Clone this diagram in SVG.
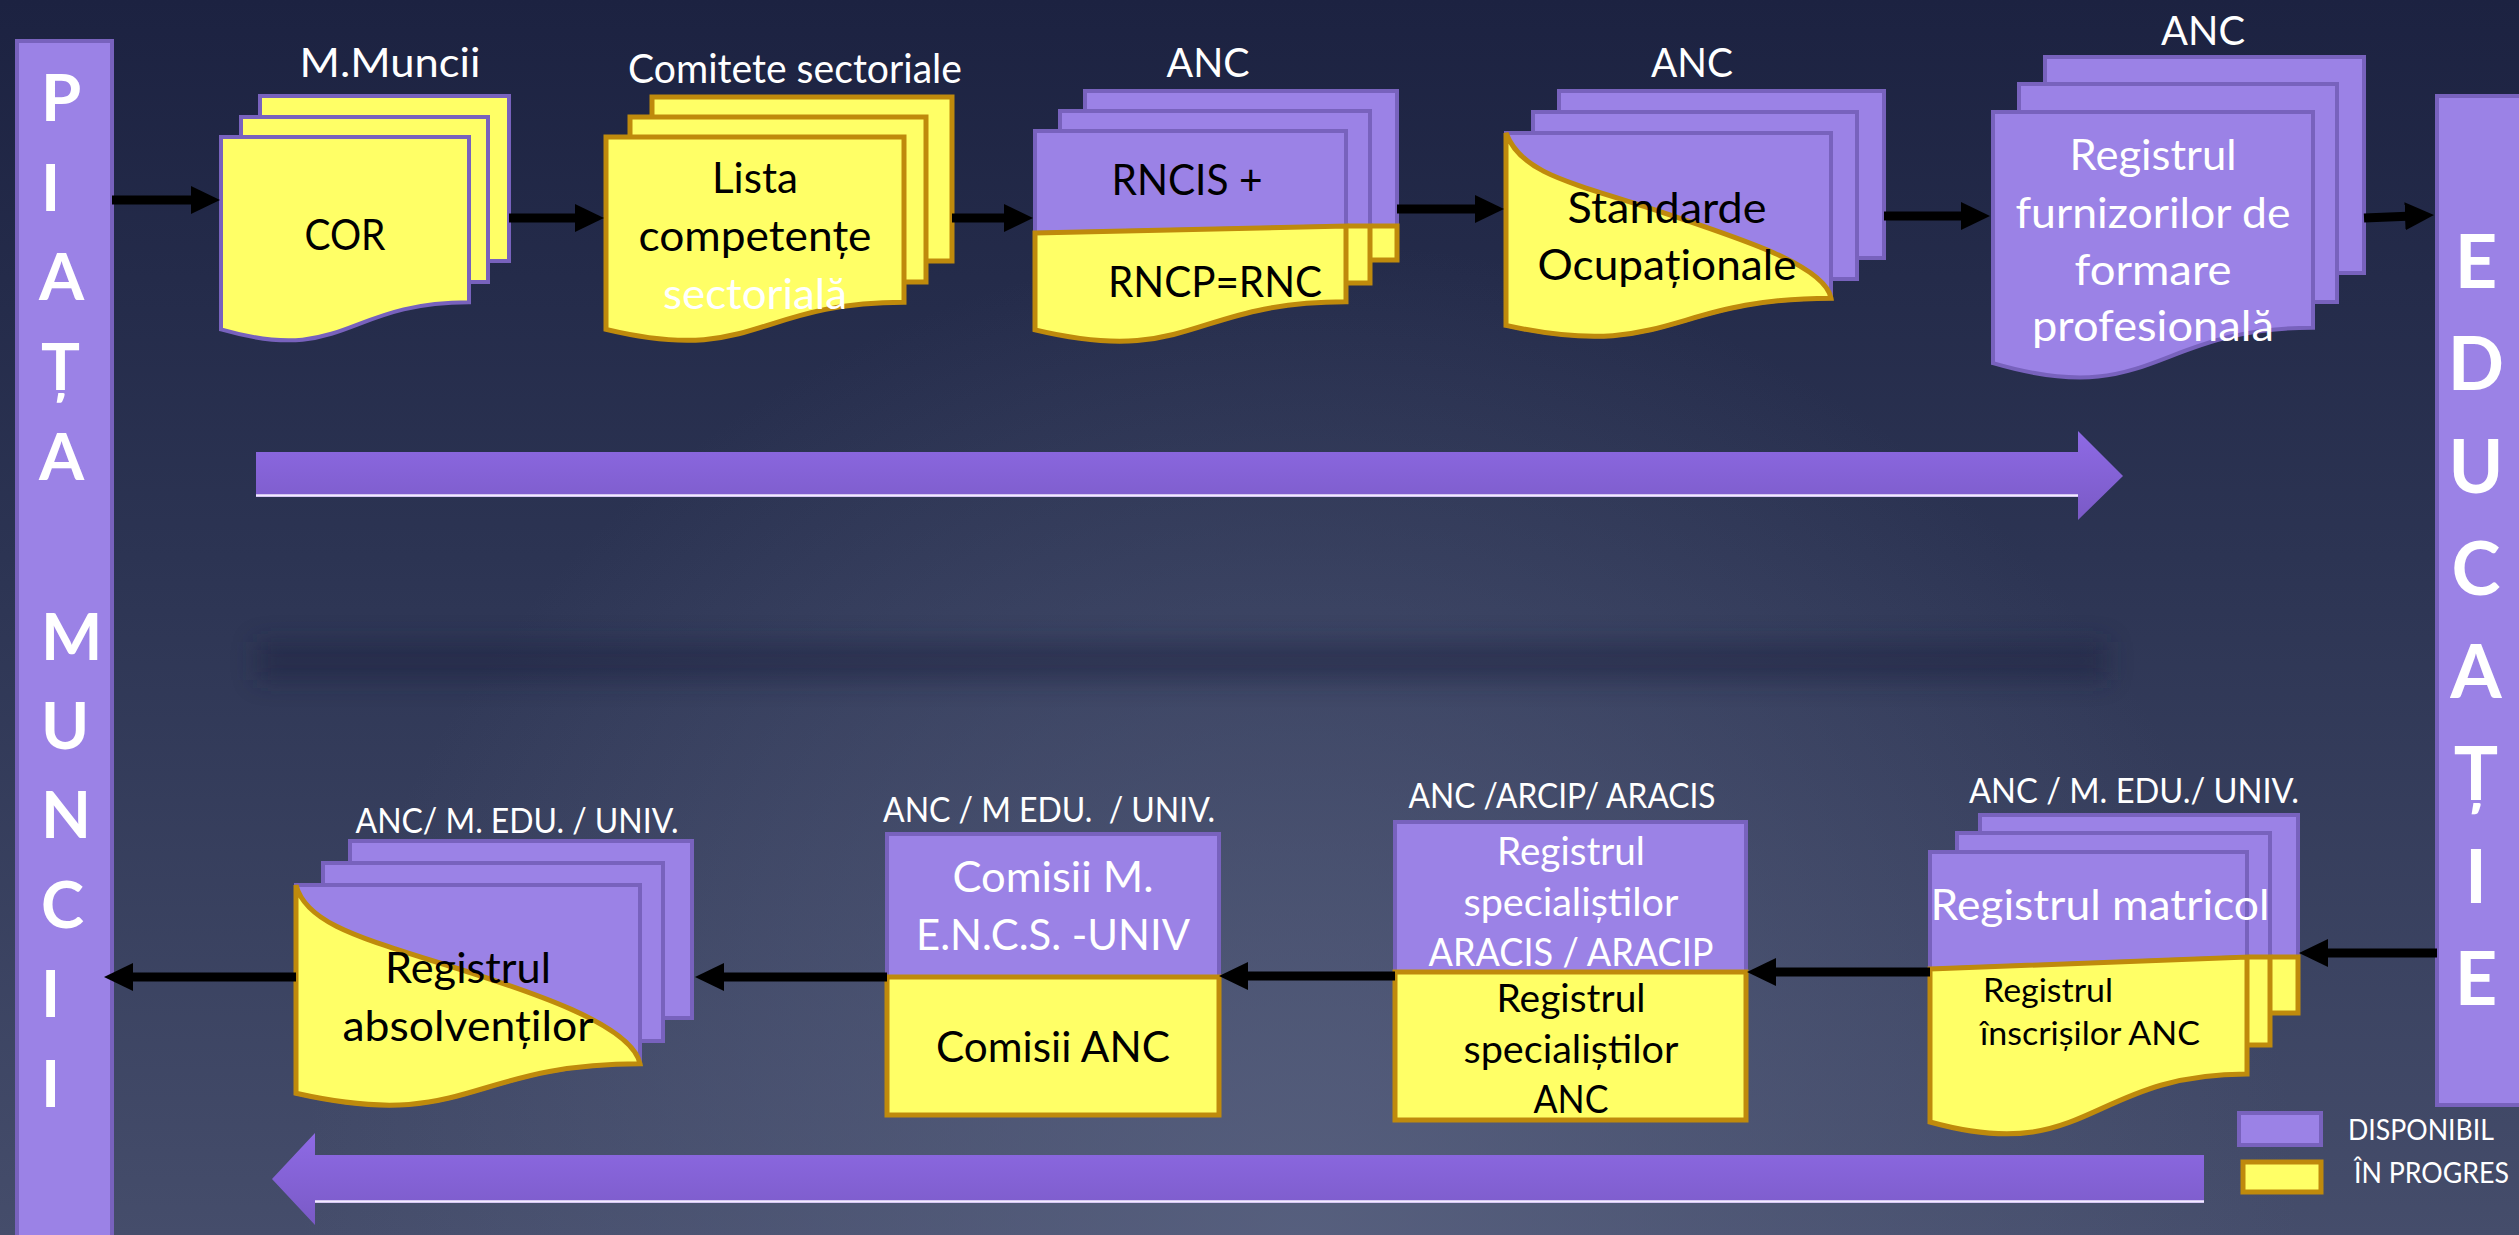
<svg xmlns="http://www.w3.org/2000/svg" width="2519" height="1235" viewBox="0 0 2519 1235">
<defs>
  <linearGradient id="bg" x1="0" y1="0" x2="0" y2="1">
    <stop offset="0" stop-color="#1c2241"/>
    <stop offset="0.45" stop-color="#2c3453"/>
    <stop offset="1" stop-color="#454d6b"/>
  </linearGradient>
  <radialGradient id="bgGlow" cx="1300" cy="1240" r="1000" gradientUnits="userSpaceOnUse">
    <stop offset="0" stop-color="#5c6584" stop-opacity="0.75"/>
    <stop offset="1" stop-color="#5c6584" stop-opacity="0"/>
  </radialGradient>
  <linearGradient id="bigArrow" x1="0" y1="0" x2="0" y2="1">
    <stop offset="0" stop-color="#8e6ae5"/>
    <stop offset="1" stop-color="#7a5ac6"/>
  </linearGradient>
  <filter id="blur" x="-10%" y="-200%" width="120%" height="500%">
    <feGaussianBlur stdDeviation="6"/>
  </filter>
  <filter id="blurBig" x="-10%" y="-200%" width="120%" height="500%">
    <feGaussianBlur stdDeviation="12"/>
  </filter>
  <marker id="ah" markerUnits="userSpaceOnUse" markerWidth="30" markerHeight="30" refX="2" refY="14" orient="auto">
    <path d="M0,0 L29,14 L0,28 Z" fill="#000"/>
  </marker>
</defs>
<style>
  .pur{fill:#9b82e6;stroke:#7862bd;stroke-width:4}
  .yel{fill:#ffff66;stroke:#bf8a0c;stroke-width:5}
  .yelp{fill:#ffff66;stroke:#7862bd;stroke-width:4}
  .bar{fill:#9b82e6;stroke:#7862bd;stroke-width:4}
  text{font-family:Lato,"Open Sans","Liberation Sans",sans-serif}
  .t{font-size:43px;text-anchor:middle}
  .s{font-size:39px;text-anchor:middle}
  .w{fill:#ffffff}
  .b{fill:#000000}
  .lbl{font-size:41px;fill:#ffffff;text-anchor:middle}
  .sl{font-size:34px;fill:#ffffff;text-anchor:middle}
  .big{font-weight:bold;fill:#ffffff}
  .conn{stroke:#000;stroke-width:9;fill:none;marker-end:url(#ah)}
  .glow{stroke:#7a84a6;stroke-width:16;fill:none;opacity:0.45;filter:url(#blur)}
  .leg{font-size:28px;fill:#ffffff}
</style>

<!-- background -->
<rect x="0" y="0" width="2519" height="1235" fill="url(#bg)"/>
<rect x="0" y="0" width="2519" height="1235" fill="url(#bgGlow)"/>
<rect x="257" y="642" width="1850" height="38" fill="#1c2240" opacity="0.5" filter="url(#blurBig)"/>

<!-- glow reflections under connectors -->
<g id="glows">
  <path class="glow" d="M112,220 H2437"/>
  <path class="glow" d="M110,995 H2437"/>
</g>

<!-- side bars -->
<g id="piata">
  <rect class="bar" x="17" y="41" width="95" height="1220"/>
  <text class="big" font-size="65" x="41" y="121">P</text>
  <text class="big" font-size="65" x="41" y="211">I</text>
  <text class="big" font-size="65" x="39" y="300">A</text>
  <text class="big" font-size="65" x="41" y="390">Ț</text>
  <text class="big" font-size="65" x="39" y="480">A</text>
  <text class="big" font-size="65" x="41" y="660">M</text>
  <text class="big" font-size="65" x="41" y="749">U</text>
  <text class="big" font-size="65" x="41" y="838">N</text>
  <text class="big" font-size="65" x="41" y="928">C</text>
  <text class="big" font-size="65" x="41" y="1017">I</text>
  <text class="big" font-size="65" x="41" y="1107">I</text>
</g>
<g id="educatie">
  <rect class="bar" x="2437" y="96" width="100" height="1009"/>
  <g text-anchor="middle">
    <text class="big" font-size="74" x="2476" y="288">E</text>
    <text class="big" font-size="74" x="2476" y="390">D</text>
    <text class="big" font-size="74" x="2476" y="493">U</text>
    <text class="big" font-size="74" x="2476" y="595">C</text>
    <text class="big" font-size="74" x="2476" y="698">A</text>
    <text class="big" font-size="74" x="2476" y="800">Ț</text>
    <text class="big" font-size="74" x="2476" y="903">I</text>
    <text class="big" font-size="74" x="2476" y="1005">E</text>
  </g>
</g>

<!-- big flow arrows -->
<g id="flow-top">
  <path d="M256,452 H2078 V431 L2123,476 L2078,520 V497 H256 Z" fill="url(#bigArrow)"/>
  <path d="M256,495.5 H2078" stroke="#f2eaff" stroke-width="2.5"/>
</g>
<g id="flow-bottom">
  <path d="M2204,1155 H315 V1133 L272,1179 L315,1225 V1203 H2204 Z" fill="url(#bigArrow)"/>
  <path d="M315,1201.5 H2204" stroke="#f2eaff" stroke-width="2.5"/>
</g>

<!-- top row nodes -->
<g id="cor">
  <text class="lbl" x="390" y="77" textLength="181" lengthAdjust="spacingAndGlyphs">M.Muncii</text>
  <rect class="yelp" x="260" y="96" width="249" height="165"/>
  <rect class="yelp" x="241" y="117" width="247" height="165"/>
  <path class="yelp" d="M221,137 H469 V302.2 C345,302.2 345,365.1 221,329.4 Z"/>
  <text class="t b" x="345" y="250" textLength="81" lengthAdjust="spacingAndGlyphs">COR</text>
</g>

<g id="lista">
  <text class="lbl" x="795" y="83" font-size="39" textLength="334" lengthAdjust="spacingAndGlyphs">Comitete sectoriale</text>
  <rect class="yel" x="652" y="97" width="300" height="164"/>
  <rect class="yel" x="630" y="117" width="296" height="165"/>
  <path class="yel" d="M606,137 H904 V302.2 C755,302.2 755,365.1 606,329.4 Z"/>
  <text class="t b" x="755" y="193" textLength="86" lengthAdjust="spacingAndGlyphs">Lista</text>
  <text class="t b" x="755" y="251" textLength="233" lengthAdjust="spacingAndGlyphs">competențe</text>
  <text class="t w" x="755" y="309" textLength="184" lengthAdjust="spacingAndGlyphs">sectorială</text>
</g>

<g id="rncis">
  <text class="lbl" x="1208" y="77" textLength="83" lengthAdjust="spacingAndGlyphs">ANC</text>
  <rect class="pur" x="1085" y="91" width="312" height="169"/>
  <rect class="yel" x="1085" y="226" width="312" height="34"/>
  <rect class="pur" x="1060" y="111" width="310" height="172"/>
  <rect class="yel" x="1060" y="226" width="310" height="57"/>
  <path class="pur" d="M1035,131 H1346 V226 L1035,233 Z"/>
  <path class="yel" d="M1035,233 L1346,226 V301.8 C1190.5,301.8 1190.5,366.9 1035,329.9 Z"/>
  <text class="t b" x="1187" y="195" textLength="151" lengthAdjust="spacingAndGlyphs">RNCIS +</text>
  <text class="t b" x="1215" y="297" textLength="214" lengthAdjust="spacingAndGlyphs">RNCP=RNC</text>
</g>

<g id="standarde">
  <text class="lbl" x="1692" y="77" textLength="82" lengthAdjust="spacingAndGlyphs">ANC</text>
  <rect class="pur" x="1559" y="91" width="325" height="167"/>
  <rect class="pur" x="1533" y="112" width="324" height="167"/>
  <path class="pur" d="M1506,133 H1831 V298.2 C1668.5,298.2 1668.5,361.1 1506,325.4 Z"/>
  <path class="yel" d="M1506,133 C1520,170 1560,180 1640,205 C1740,238 1825,265 1831,298.2 C1668.5,298.2 1668.5,361.1 1506,325.4 Z"/>
  <text class="t b" x="1667" y="223" textLength="199" lengthAdjust="spacingAndGlyphs">Standarde</text>
  <text class="t b" x="1667" y="280" textLength="259" lengthAdjust="spacingAndGlyphs">Ocupaționale</text>
</g>

<g id="furnizori">
  <text class="lbl" x="2203" y="45" textLength="84" lengthAdjust="spacingAndGlyphs">ANC</text>
  <rect class="pur" x="2045" y="57" width="319" height="216"/>
  <rect class="pur" x="2019" y="84" width="318" height="218"/>
  <path class="pur" d="M1993,112 H2313 V327.7 C2153,327.7 2153,409.9 1993,363.2 Z"/>
  <text class="t w" x="2153" y="170" textLength="167" lengthAdjust="spacingAndGlyphs">Registrul</text>
  <text class="t w" x="2153" y="228" textLength="275" lengthAdjust="spacingAndGlyphs">furnizorilor de</text>
  <text class="t w" x="2153" y="285" textLength="157" lengthAdjust="spacingAndGlyphs">formare</text>
  <text class="t w" x="2153" y="341" textLength="242" lengthAdjust="spacingAndGlyphs">profesională</text>
</g>

<!-- bottom row nodes -->
<g id="matricol">
  <text class="sl" x="2134" y="803" textLength="330" lengthAdjust="spacingAndGlyphs">ANC / M. EDU./ UNIV.</text>
  <rect class="pur" x="1980" y="815" width="318" height="198"/>
  <rect class="yel" x="1980" y="957" width="318" height="56"/>
  <rect class="pur" x="1957" y="833" width="313" height="212"/>
  <rect class="yel" x="1957" y="957" width="313" height="88"/>
  <path class="pur" d="M1930,852 H2247 V957 L1930,969 Z"/>
  <path class="yel" d="M1930,969 L2247,957 V1074 C2088.5,1074 2088.5,1166 1930,1122 Z"/>
  <text class="t w" x="2100" y="920" textLength="339" lengthAdjust="spacingAndGlyphs">Registrul matricol</text>
  <text class="b" font-size="33" x="1983" y="1002" textLength="130" lengthAdjust="spacingAndGlyphs">Registrul</text>
  <text class="b" font-size="33" x="1980" y="1045" textLength="220" lengthAdjust="spacingAndGlyphs">înscrișilor ANC</text>
</g>

<g id="specialisti">
  <text class="sl" x="1562" y="808" textLength="307" lengthAdjust="spacingAndGlyphs">ANC /ARCIP/ ARACIS</text>
  <rect class="pur" x="1395" y="822" width="351" height="150"/>
  <rect class="yel" x="1395" y="972" width="351" height="148"/>
  <text class="s w" x="1571" y="865" textLength="148" lengthAdjust="spacingAndGlyphs">Registrul</text>
  <text class="s w" x="1571" y="916" textLength="215" lengthAdjust="spacingAndGlyphs">specialiștilor</text>
  <text class="s w" x="1571" y="966" textLength="285" lengthAdjust="spacingAndGlyphs">ARACIS / ARACIP</text>
  <text class="s b" x="1571" y="1012" textLength="149" lengthAdjust="spacingAndGlyphs">Registrul</text>
  <text class="s b" x="1571" y="1063" textLength="215" lengthAdjust="spacingAndGlyphs">specialiștilor</text>
  <text class="s b" x="1571" y="1113" textLength="75" lengthAdjust="spacingAndGlyphs">ANC</text>
</g>

<g id="comisii">
  <text class="sl" x="1049" y="822" xml:space="preserve" textLength="332" lengthAdjust="spacingAndGlyphs">ANC / M EDU.  / UNIV.</text>
  <rect class="pur" x="887" y="834" width="332" height="143"/>
  <rect class="yel" x="887" y="977" width="332" height="138"/>
  <text class="t w" x="1053" y="892" textLength="201" lengthAdjust="spacingAndGlyphs">Comisii M.</text>
  <text class="t w" x="1053" y="950" textLength="274" lengthAdjust="spacingAndGlyphs">E.N.C.S. -UNIV</text>
  <text class="t b" x="1053" y="1062" textLength="234" lengthAdjust="spacingAndGlyphs">Comisii ANC</text>
</g>

<g id="absolventi">
  <text class="sl" x="517" y="833" textLength="323" lengthAdjust="spacingAndGlyphs">ANC/ M. EDU. / UNIV.</text>
  <rect class="pur" x="350" y="841" width="342" height="177"/>
  <rect class="pur" x="323" y="863" width="340" height="178"/>
  <path class="pur" d="M296,885 H640 V1063.8 C468,1063.8 468,1132 296,1093.3 Z"/>
  <path class="yel" d="M296,885 C305,920 350,935 430,960 C535,992 632,1025 640,1063.8 C468,1063.8 468,1132 296,1093.3 Z"/>
  <text class="t b" x="468" y="983" textLength="166" lengthAdjust="spacingAndGlyphs">Registrul</text>
  <text class="t b" x="468" y="1041" textLength="251" lengthAdjust="spacingAndGlyphs">absolvenților</text>
</g>

<!-- connectors -->
<g id="connectors">
  <path class="conn" d="M112,200 H193"/>
  <path class="conn" d="M509,218 H577"/>
  <path class="conn" d="M952,218 H1006"/>
  <path class="conn" d="M1397,209 H1477"/>
  <path class="conn" d="M1884,216 H1963"/>
  <path class="conn" d="M2364,218 L2407,216.2"/>
  <path class="conn" d="M2437,953 H2326"/>
  <path class="conn" d="M1930,972 H1774"/>
  <path class="conn" d="M1395,976 H1246"/>
  <path class="conn" d="M887,977 H722"/>
  <path class="conn" d="M296,977 H131"/>
</g>

<!-- legend -->
<g id="legend">
  <rect class="pur" x="2239" y="1113" width="82" height="32"/>
  <text class="leg" x="2348" y="1140" textLength="146" lengthAdjust="spacingAndGlyphs">DISPONIBIL</text>
  <rect class="yel" x="2243" y="1162" width="78" height="30"/>
  <text class="leg" x="2354" y="1183" textLength="155" lengthAdjust="spacingAndGlyphs">ÎN PROGRES</text>
</g>
</svg>
